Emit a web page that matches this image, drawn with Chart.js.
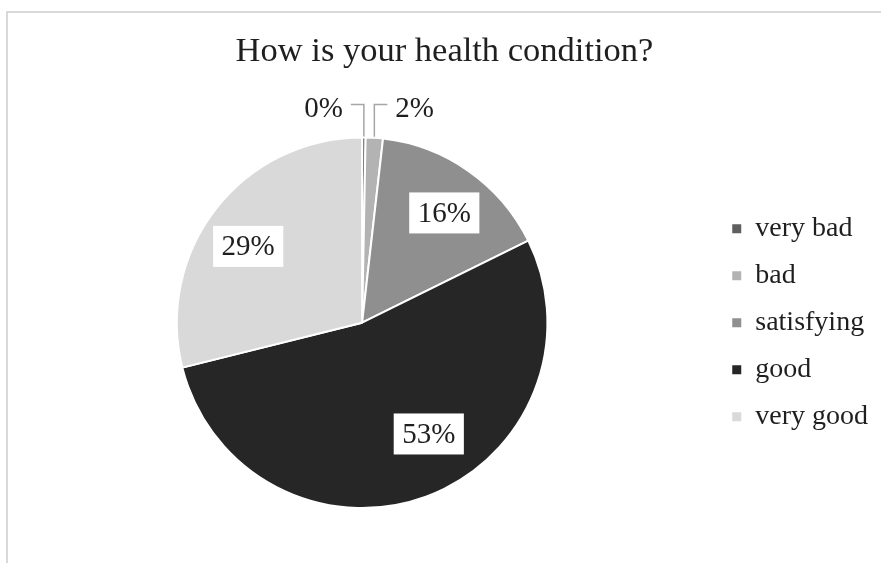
<!DOCTYPE html>
<html>
<head>
<meta charset="utf-8">
<script src="https://cdn.jsdelivr.net/npm/chart.js@4"></script>
<style>
  html, body { margin: 0; padding: 0; background: #fff; overflow: hidden; }
  #frame {
    position: absolute; left: 6px; top: 11px; width: 900px; height: 570px;
    border-left: 2px solid #d9d9d9; border-top: 2px solid #d9d9d9;
  }
  #myChart { position: absolute; left: 8px; top: 13px; }
</style>
</head>
<body>
<div id="frame"></div>
<canvas id="myChart" width="886" height="560"></canvas>
<script>
// categories and shares (percent)
var categories = ['very bad', 'bad', 'satisfying', 'good', 'very good'];
var shares = [0.3, 1.5, 15.9, 53.4, 28.9];
var sliceColors = ['#5f5f5f', '#b3b3b3', '#8f8f8f', '#262626', '#d9d9d9'];

var serif = '"Liberation Serif", "Times New Roman", serif';
Chart.defaults.font.family = serif;
Chart.defaults.color = '#1f1f1f';

// labels on the slices, small slices go outside with a leader line
const sliceLabels = {
  id: 'sliceLabels',
  afterDatasetsDraw(chart, args, opts) {
    const ctx = chart.ctx;
    const meta = chart.getDatasetMeta(0);
    ctx.save();
    ctx.font = '29px ' + serif;
    ctx.textBaseline = 'middle';
    meta.data.forEach(function(arc, i) {
      const txt = Math.round(shares[i]) + '%';
      const r = arc.outerRadius;
      if (shares[i] < 5) {
        const mid = (arc.startAngle + arc.endAngle) / 2;
        const dir = i === 0 ? -1 : 1;
        const x0 = arc.x + Math.cos(mid) * r;
        const y0 = arc.y + Math.sin(mid) * r;
        const yL = arc.y - r - 33;
        const x1 = x0 + dir * 13;
        ctx.strokeStyle = '#a6a6a6';
        ctx.lineWidth = 1.5;
        ctx.beginPath();
        ctx.moveTo(x0, y0 - 1);
        ctx.lineTo(x0, yL);
        ctx.lineTo(x1, yL);
        ctx.stroke();
        ctx.fillStyle = '#1f1f1f';
        ctx.textAlign = dir < 0 ? 'right' : 'left';
        ctx.fillText(txt, x1 + dir * 8, yL + 5);
      } else {
        // where inside the slice the label sits (share of the sweep, share of the radius)
        const a = arc.startAngle + (arc.endAngle - arc.startAngle) * opts.along[i];
        const d = r * opts.dist[i];
        const x = arc.x + Math.cos(a) * d;
        const y = arc.y + Math.sin(a) * d;
        const w = ctx.measureText(txt).width + 17;
        const h = 41;
        ctx.fillStyle = '#ffffff';
        ctx.fillRect(x - w / 2, y - h / 2, w, h);
        ctx.fillStyle = '#1f1f1f';
        ctx.textAlign = 'center';
        ctx.fillText(txt, x, y + 1);
      }
    });
    ctx.restore();
  }
};

const ctx = document.getElementById('myChart').getContext('2d');

const config = {
  type: 'pie',
  data: {
    labels: categories,
    datasets: [{
      data: shares,
      backgroundColor: sliceColors,
      borderColor: '#ffffff',
      borderWidth: 2
    }]
  },
  options: {
    responsive: false,
    animation: false,
    devicePixelRatio: 1,
    layout: {
      padding: { left: 3, right: 16, top: 0, bottom: 64 }
    },
    plugins: {
      title: {
        display: true,
        text: 'How is your health condition?',
        color: '#1f1f1f',
        font: { size: 34.5, weight: 'normal' },
        padding: { top: 18, bottom: 64 }
      },
      legend: {
        position: 'right',
        fullSize: false,
        labels: {
          font: { size: 28 },
          color: '#1f1f1f',
          boxWidth: 9,
          boxHeight: 9,
          padding: 19,
          generateLabels: function(chart) {
            const items = Chart.overrides.pie.plugins.legend.labels.generateLabels(chart);
            return items.map(function(it) { it.lineWidth = 0; return it; });
          }
        }
      },
      sliceLabels: {
        along: [0.5, 0.5, 0.53, 0.444, 0.46],
        dist: [0.74, 0.74, 0.74, 0.70, 0.74]
      },
      tooltip: { enabled: false }
    }
  },
  plugins: [sliceLabels]
};

const chart = new Chart(ctx, config);
</script>
</body>
</html>
